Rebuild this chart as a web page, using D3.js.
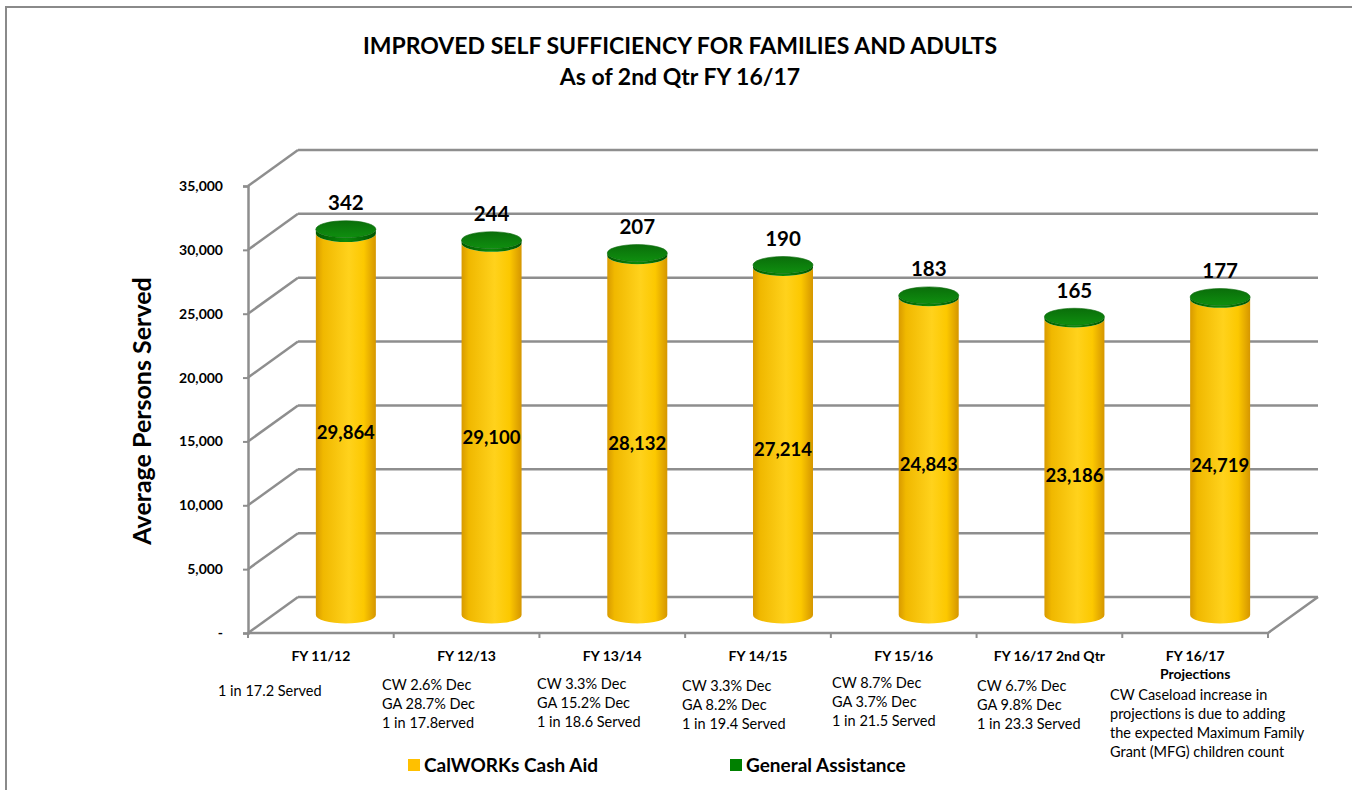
<!DOCTYPE html>
<html>
<head>
<meta charset="utf-8">
<script src="https://cdn.jsdelivr.net/npm/d3@7/dist/d3.min.js"></script>
<style>
  html, body { margin: 0; padding: 0; background: #fff; }
  svg { display: block; font-family: Lato, "Open Sans", sans-serif; }
</style>
</head>
<body>
<svg id="chart" width="1352" height="790"></svg>
<script>
// Fiscal years on the x axis
const categories = ["FY 11/12", "FY 12/13", "FY 13/14", "FY 14/15", "FY 15/16", "FY 16/17 2nd Qtr", "FY 16/17 Projections"];
// Category labels as drawn (one entry per line)
const categoryLines = [["FY 11/12"], ["FY 12/13"], ["FY 13/14"], ["FY 14/15"], ["FY 15/16"], ["FY 16/17 2nd Qtr"], ["FY 16/17", "Projections"]];
// Average persons served
const calworks = [29864, 29100, 28132, 27214, 24843, 23186, 24719];
const generalAssistance = [342, 244, 207, 190, 183, 165, 177];
// Value axis ticks
const yTicks = [0, 5000, 10000, 15000, 20000, 25000, 30000, 35000];
// Notes under each year
const notes = [
  ["1 in 17.2 Served"],
  ["CW 2.6% Dec", "GA 28.7% Dec", "1 in 17.8erved"],
  ["CW 3.3% Dec", "GA 15.2% Dec", "1 in 18.6 Served"],
  ["CW 3.3% Dec", "GA 8.2% Dec", "1 in 19.4 Served"],
  ["CW 8.7% Dec", "GA 3.7% Dec", "1 in 21.5 Served"],
  ["CW 6.7% Dec", "GA 9.8% Dec", "1 in 23.3 Served"],
  ["CW Caseload increase in", "projections is due to adding", "the expected Maximum Family", "Grant (MFG) children count"]
];
const seriesNames = ["CalWORKs Cash Aid", "General Assistance"];

const svg = d3.select("#chart");
const defs = svg.append("defs");

// Outer frame
svg.append("rect").attr("x", 6).attr("y", 7).attr("width", 1400).attr("height", 900)
  .attr("fill", "none").attr("stroke", "#8a8a8a").attr("stroke-width", 2);

// Title
svg.append("text").attr("x", 680).attr("y", 54).attr("text-anchor", "middle")
  .attr("font-size", 23).attr("font-weight", 700).attr("fill", "#000")
  .text("IMPROVED SELF SUFFICIENCY FOR FAMILIES AND ADULTS");
svg.append("text").attr("x", 680).attr("y", 85).attr("text-anchor", "middle")
  .attr("font-size", 23).attr("font-weight", 700).attr("fill", "#000")
  .text("As of 2nd Qtr FY 16/17");

// 3D plot geometry: front plane scales plus a depth offset
const x = d3.scaleBand().domain(categories).range([248, 1268]);
const y = d3.scaleLinear().domain([0, 35000]).range([633, 186]);
const depth = { dx: 50, dy: -36 };
const grid = "#8e8e8e";

const g = svg.append("g");

// Back wall gridlines and side wall diagonals
yTicks.forEach(t => {
  const yf = y(t);
  g.append("line")
    .attr("x1", x.range()[0]).attr("y1", yf)
    .attr("x2", x.range()[0] + depth.dx).attr("y2", yf + depth.dy)
    .attr("stroke", grid).attr("stroke-width", 2.5);
  g.append("line")
    .attr("x1", x.range()[0] + depth.dx).attr("y1", yf + depth.dy)
    .attr("x2", x.range()[1] + depth.dx).attr("y2", yf + depth.dy)
    .attr("stroke", grid).attr("stroke-width", 2.5);
});

// Floor
const fy = y(0);
g.append("path")
  .attr("d", `M${x.range()[0]},${fy} L${x.range()[1]},${fy} L${x.range()[1] + depth.dx},${fy + depth.dy}`)
  .attr("fill", "none").attr("stroke", grid).attr("stroke-width", 2.5);

// Value axis on the front plane
const yAxis = d3.axisLeft(y).tickValues(yTicks).tickSize(5).tickPadding(20)
  .tickFormat(d => d === 0 ? "-" : d3.format(",")(d));
const ya = svg.append("g").attr("transform", `translate(${x.range()[0]},0)`).call(yAxis);
ya.select(".domain").attr("stroke", grid).attr("stroke-width", 2.5);
ya.selectAll(".tick line").attr("stroke", grid).attr("stroke-width", 2);
ya.selectAll(".tick text").attr("font-size", 14).attr("font-weight", 700).attr("fill", "#000")
  .attr("font-family", "Lato, sans-serif");

// Category ticks on the front floor edge
const xAxis = d3.axisBottom(x).tickSize(0).tickFormat("");
const xa = svg.append("g").attr("transform", `translate(0,${fy})`).call(xAxis);
xa.select(".domain").remove();
const bounds = categories.map(c => x(c)).concat([x.range()[1]]);
xa.selectAll(".cat-tick").data(bounds).join("line")
  .attr("x1", d => d).attr("x2", d => d).attr("y1", 0).attr("y2", 5)
  .attr("stroke", grid).attr("stroke-width", 2);

// Category labels
categoryLines.forEach((lines, i) => {
  const cx = x(categories[i]) + x.bandwidth() / 2;
  lines.forEach((ln, k) => {
    svg.append("text").attr("x", cx).attr("y", 661 + k * 18).attr("text-anchor", "middle")
      .attr("font-size", 14).attr("font-weight", 700).attr("fill", "#000").text(ln);
  });
});

// Y axis title
svg.append("text").attr("transform", "translate(151,411) rotate(-90)")
  .attr("text-anchor", "middle").attr("font-size", 25).attr("font-weight", 700)
  .attr("fill", "#000").text("Average Persons Served");

// Cylinder gradients
function hGrad(id, stops) {
  const lg = defs.append("linearGradient").attr("id", id)
    .attr("x1", "0%").attr("x2", "100%").attr("y1", "0%").attr("y2", "0%");
  stops.forEach(s => lg.append("stop").attr("offset", s[0]).attr("stop-color", s[1]));
}
hGrad("cwBody", [["0%", "#d89a00"], ["12%", "#f0b800"], ["55%", "#ffd21c"], ["80%", "#fcc800"], ["100%", "#d59600"]]);
hGrad("gaBody", [["0%", "#005c00"], ["50%", "#0a8a0a"], ["100%", "#005400"]]);
const capGrad = defs.append("linearGradient").attr("id", "gaCap")
  .attr("x1", "0%").attr("x2", "0%").attr("y1", "0%").attr("y2", "100%");
capGrad.append("stop").attr("offset", "0%").attr("stop-color", "#0a6e0a");
capGrad.append("stop").attr("offset", "100%").attr("stop-color", "#0f8f0f");

// Cylinders sit at mid depth
const rx = 30, ry = 8.5;
const mid = { dx: depth.dx / 2, dy: depth.dy / 2 };
const bars = calworks.map((v, i) => ({ cat: categories[i], cw: v, ga: generalAssistance[i] }));

function body(cx, yTop, yBot) {
  return `M${cx - rx},${yTop} L${cx - rx},${yBot} A${rx},${ry} 0 0 0 ${cx + rx},${yBot} L${cx + rx},${yTop} A${rx},${ry} 0 0 1 ${cx - rx},${yTop} Z`;
}

const bg = svg.append("g");
bars.forEach(d => {
  const cx = x(d.cat) + x.bandwidth() / 2 + mid.dx;
  const yBase = y(0) + mid.dy;
  const yCw = y(d.cw) + mid.dy;
  const yGa = y(d.cw + d.ga) + mid.dy;
  bg.append("path").attr("d", body(cx, yCw, yBase)).attr("fill", "url(#cwBody)");
  bg.append("path").attr("d", body(cx, yGa, yCw)).attr("fill", "url(#gaBody)");
  bg.append("ellipse").attr("cx", cx).attr("cy", yGa).attr("rx", rx).attr("ry", ry)
    .attr("fill", "url(#gaCap)").attr("stroke", "#0b6a0b").attr("stroke-width", 0.6);

  // CalWORKs value inside the body
  svg.append("text").attr("x", cx).attr("y", (yCw + yBase) / 2 + 15)
    .attr("text-anchor", "middle").attr("font-size", 18.5).attr("font-weight", 700)
    .attr("fill", "#000").text(d3.format(",")(d.cw));
  // General Assistance value above the cap
  svg.append("text").attr("x", cx).attr("y", yGa - 19)
    .attr("text-anchor", "middle").attr("font-size", 20.5).attr("font-weight", 700)
    .attr("fill", "#000").text(d3.format(",")(d.ga));
});

// Notes
const noteLeft = [218, 382, 537, 682, 832, 977, 1110];
const noteTop = [696, 690, 689, 691, 688, 691, 700];
notes.forEach((lines, i) => {
  lines.forEach((ln, k) => {
    svg.append("text").attr("x", noteLeft[i]).attr("y", noteTop[i] + k * 19)
      .attr("font-size", 14.5).attr("fill", "#000").text(ln);
  });
});

// Legend
const legendColors = ["#ffc000", "#008000"];
const legendX = [408, 730];
seriesNames.forEach((name, i) => {
  svg.append("rect").attr("x", legendX[i]).attr("y", 759).attr("width", 12).attr("height", 12)
    .attr("fill", legendColors[i]);
  svg.append("text").attr("x", legendX[i] + 16).attr("y", 772)
    .attr("font-size", 19).attr("font-weight", 700).attr("fill", "#000").text(name);
});
</script>
</body>
</html>
